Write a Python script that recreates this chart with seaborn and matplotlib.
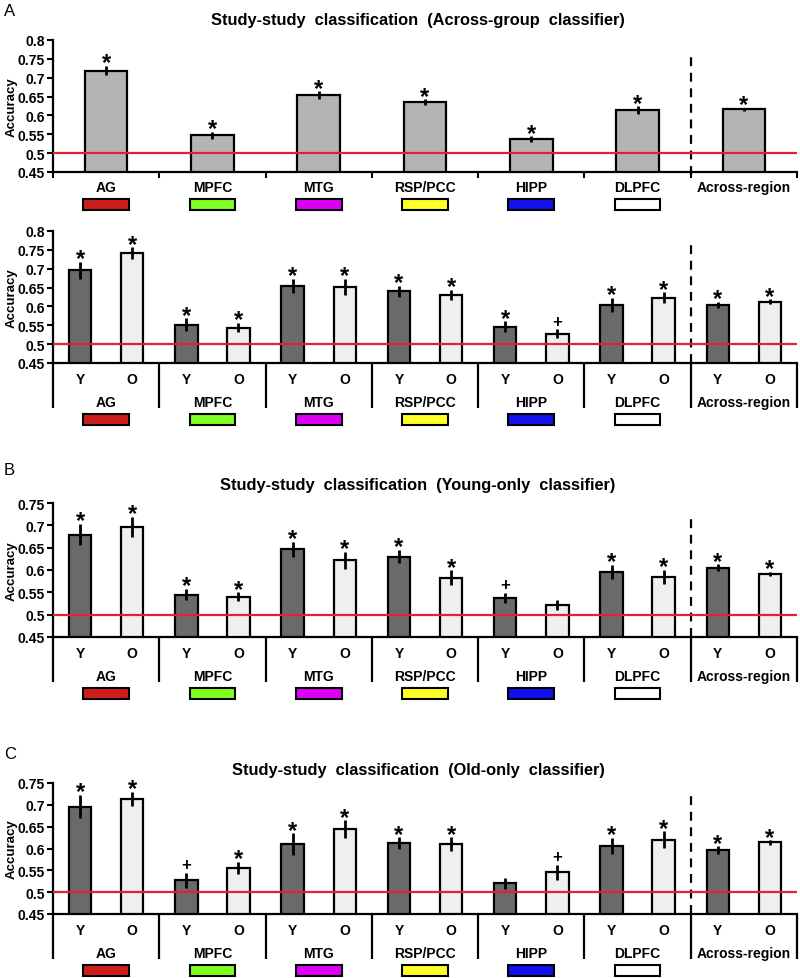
import numpy as np
import pandas as pd
import seaborn as sns
import matplotlib
matplotlib.use("Agg")
import matplotlib.pyplot as plt
from matplotlib.patches import Rectangle

# ---------------- data ----------------
regions = ["AG", "MPFC", "MTG", "RSP/PCC", "HIPP", "DLPFC", "Across-region"]
region_colors = ["#cc1c1c", "#80ff24", "#dc00f8", "#ffff28", "#1010f0", "#ffffff", None]
groups = ["Y", "O"]

# Panel A (top): across-group classifier, combined
a_acc = [0.719, 0.547, 0.654, 0.635, 0.537, 0.614, 0.616]
a_err = [0.012, 0.009, 0.010, 0.008, 0.008, 0.010, 0.004]
a_sig = ["*", "*", "*", "*", "*", "*", "*"]

# Panel A (bottom): across-group classifier, by age group
a2_young = [0.696, 0.552, 0.655, 0.640, 0.546, 0.604, 0.604]
a2_young_err = [0.023, 0.017, 0.019, 0.015, 0.015, 0.019, 0.008]
a2_young_sig = ["*", "*", "*", "*", "*", "*", "*"]
a2_old = [0.741, 0.544, 0.652, 0.630, 0.527, 0.623, 0.613]
a2_old_err = [0.016, 0.012, 0.021, 0.014, 0.012, 0.014, 0.006]
a2_old_sig = ["*", "*", "*", "*", "+", "*", "*"]

# Panel B: young-only classifier
b_young = [0.679, 0.545, 0.646, 0.630, 0.538, 0.596, 0.605]
b_young_err = [0.024, 0.013, 0.017, 0.015, 0.011, 0.016, 0.008]
b_young_sig = ["*", "*", "*", "*", "+", "*", "*"]
b_old = [0.697, 0.540, 0.622, 0.583, 0.522, 0.585, 0.591]
b_old_err = [0.022, 0.010, 0.019, 0.016, 0.011, 0.016, 0.005]
b_old_sig = ["*", "*", "*", "*", "", "*", "*"]

# Panel C: old-only classifier
c_young = [0.696, 0.527, 0.610, 0.613, 0.520, 0.606, 0.596]
c_young_err = [0.027, 0.017, 0.025, 0.013, 0.013, 0.018, 0.009]
c_young_sig = ["*", "+", "*", "*", "", "*", "*"]
c_old = [0.714, 0.555, 0.645, 0.610, 0.546, 0.620, 0.614]
c_old_err = [0.016, 0.014, 0.020, 0.016, 0.017, 0.019, 0.005]
c_old_sig = ["*", "*", "*", "*", "+", "*", "*"]

titles = ["Study-study  classification  (Across-group  classifier)",
          "Study-study  classification  (Young-only  classifier)",
          "Study-study  classification  (Old-only  classifier)"]
panel_letters = ["A", "B", "C"]

# ---------------- style ----------------
sns.set_style("white")
plt.rcParams["font.family"] = ["Liberation Sans", "DejaVu Sans"]
plt.rcParams["font.weight"] = "bold"
for k in ["text.color", "axes.labelcolor", "xtick.color", "ytick.color"]:
    plt.rcParams[k] = "black"

W, H = 800, 979
fig = plt.figure(figsize=(W / 100, H / 100), dpi=100)

X0, X1 = 53, 797
BAR_EDGE = 1.6
YLAB_X = -0.048


def make_ax(top_px, bot_px, ylo, yhi, yticks):
    ax = fig.add_axes([X0 / W, 1 - bot_px / H, (X1 - X0) / W, (bot_px - top_px) / H])
    ax.set_ylim(ylo, yhi)
    ax.set_yticks(yticks)
    ax.set_yticklabels(["%g" % t for t in yticks], fontsize=10, fontweight="bold")
    ax.set_xlim(-0.5, len(regions) - 0.5)
    for s in ["top", "right"]:
        ax.spines[s].set_visible(False)
    for s in ["left", "bottom"]:
        ax.spines[s].set_linewidth(1.6)
        ax.spines[s].set_color("black")
    ax.tick_params(axis="y", direction="out", length=4, width=1.5, pad=2, left=True)
    return ax, bot_px - top_px


def set_ylab(ax):
    ax.set_ylabel("Accuracy", fontsize=9.5, fontweight="bold")
    ax.yaxis.set_label_coords(YLAB_X, 0.5)


def add_errs(ax, xs, vals, errs, sigs):
    ax.errorbar(xs, vals, yerr=errs, fmt="none", ecolor="black", elinewidth=2.0,
                capsize=0, zorder=5)
    for x, v, e, s in zip(xs, vals, errs, sigs):
        if s == "*":
            ax.annotate("*", xy=(x, v + e), xytext=(0, -2.5), textcoords="offset points",
                        ha="center", va="baseline", fontsize=17, fontweight="bold")
        elif s == "+":
            ax.annotate("+", xy=(x, v + e), xytext=(0, 2.5), textcoords="offset points",
                        ha="center", va="baseline", fontsize=12, fontweight="bold")


def common_decor(ax, h_px, dash_top_px, label_below, box_top, box_bot, dividers_px=None):
    tr = ax.get_xaxis_transform()
    ax.axhline(0.5, color="#e3222b", lw=1.6, zorder=6)
    ax.axvline(5.5, ymin=-3 / h_px if dividers_px is None else 0, ymax=1 - dash_top_px / h_px,
               color="black", lw=1.6, ls=(0, (4, 3)), clip_on=False, zorder=4)
    for i, r in enumerate(regions):
        ax.text(i, -label_below / h_px, r, transform=tr, ha="center", va="center",
                fontsize=10, fontweight="bold")
        if region_colors[i] is not None:
            ax.add_patch(Rectangle((i - 0.215, -box_bot / h_px), 0.43, (box_bot - box_top) / h_px,
                                   transform=tr, clip_on=False, fc=region_colors[i],
                                   ec="black", lw=1.5))
    bounds = np.arange(len(regions) + 1) - 0.5
    if dividers_px is None:
        ax.set_xticks(bounds)
        ax.set_xticklabels([])
        ax.tick_params(axis="x", direction="out", length=4, width=1.5, bottom=True)
    else:
        ax.set_xticks([])
        for b in bounds:
            ax.plot([b, b], [0, -dividers_px / h_px], transform=tr, color="black",
                    lw=1.6, clip_on=False, solid_capstyle="butt")
    ax.set_xlabel("")


# ---------------- Panel A top ----------------
axA, hA = make_ax(41, 173, 0.45, 0.8, np.round(np.arange(0.45, 0.801, 0.05), 2))
dfA = pd.DataFrame({"region": regions, "acc": a_acc})
sns.barplot(data=dfA, x="region", y="acc", order=regions, color="#b4b4b4",
            edgecolor="black", linewidth=BAR_EDGE, width=0.4, errorbar=None,
            saturation=1, ax=axA)
xsA = [p.get_x() + p.get_width() / 2 for p in axA.containers[0]]
add_errs(axA, xsA, a_acc, a_err, a_sig)
common_decor(axA, hA, 13, 15, 27, 38)
set_ylab(axA)


def group_panel(top_px, bot_px, ylo, yhi, yticks, yv, ye, ys, ov, oe, os_, dash_top):
    ax, h = make_ax(top_px, bot_px, ylo, yhi, yticks)
    df = pd.DataFrame({
        "region": regions * 2,
        "group": ["Y"] * len(regions) + ["O"] * len(regions),
        "acc": list(yv) + list(ov),
    })
    sns.barplot(data=df, x="region", y="acc", hue="group", order=regions,
                hue_order=groups, palette={"Y": "#6a6a6a", "O": "#efefef"},
                edgecolor="black", linewidth=BAR_EDGE, width=0.98, gap=0.57,
                errorbar=None, saturation=1, legend=False, ax=ax)
    tr = ax.get_xaxis_transform()
    for cont, g, vals, errs, sigs in zip(ax.containers, groups, [yv, ov], [ye, oe], [ys, os_]):
        xs = [p.get_x() + p.get_width() / 2 for p in cont]
        add_errs(ax, xs, vals, errs, sigs)
        for x in xs:
            ax.text(x, -16 / h, g, transform=tr, ha="center", va="center",
                    fontsize=10, fontweight="bold")
    common_decor(ax, h, dash_top, 39, 51, 62, dividers_px=45)
    set_ylab(ax)
    return ax


group_panel(232, 364, 0.45, 0.8, np.round(np.arange(0.45, 0.801, 0.05), 2),
            a2_young, a2_young_err, a2_young_sig, a2_old, a2_old_err, a2_old_sig, 13)
group_panel(504, 638, 0.45, 0.75, np.round(np.arange(0.45, 0.751, 0.05), 2),
            b_young, b_young_err, b_young_sig, b_old, b_old_err, b_old_sig, 16)
group_panel(784, 915, 0.45, 0.75, np.round(np.arange(0.45, 0.751, 0.05), 2),
            c_young, c_young_err, c_young_sig, c_old, c_old_err, c_old_sig, 13)

# titles and panel letters
for t, y in zip(titles, [21, 486, 770]):
    fig.text(418 / W, 1 - y / H, t, ha="center", va="center", fontsize=11.8, fontweight="bold")
for l, y in zip(panel_letters, [11, 471, 755]):
    fig.text(4 / W, 1 - y / H, l, ha="left", va="center", fontsize=12, fontweight="normal")

fig.savefig("out.png", dpi=100)
